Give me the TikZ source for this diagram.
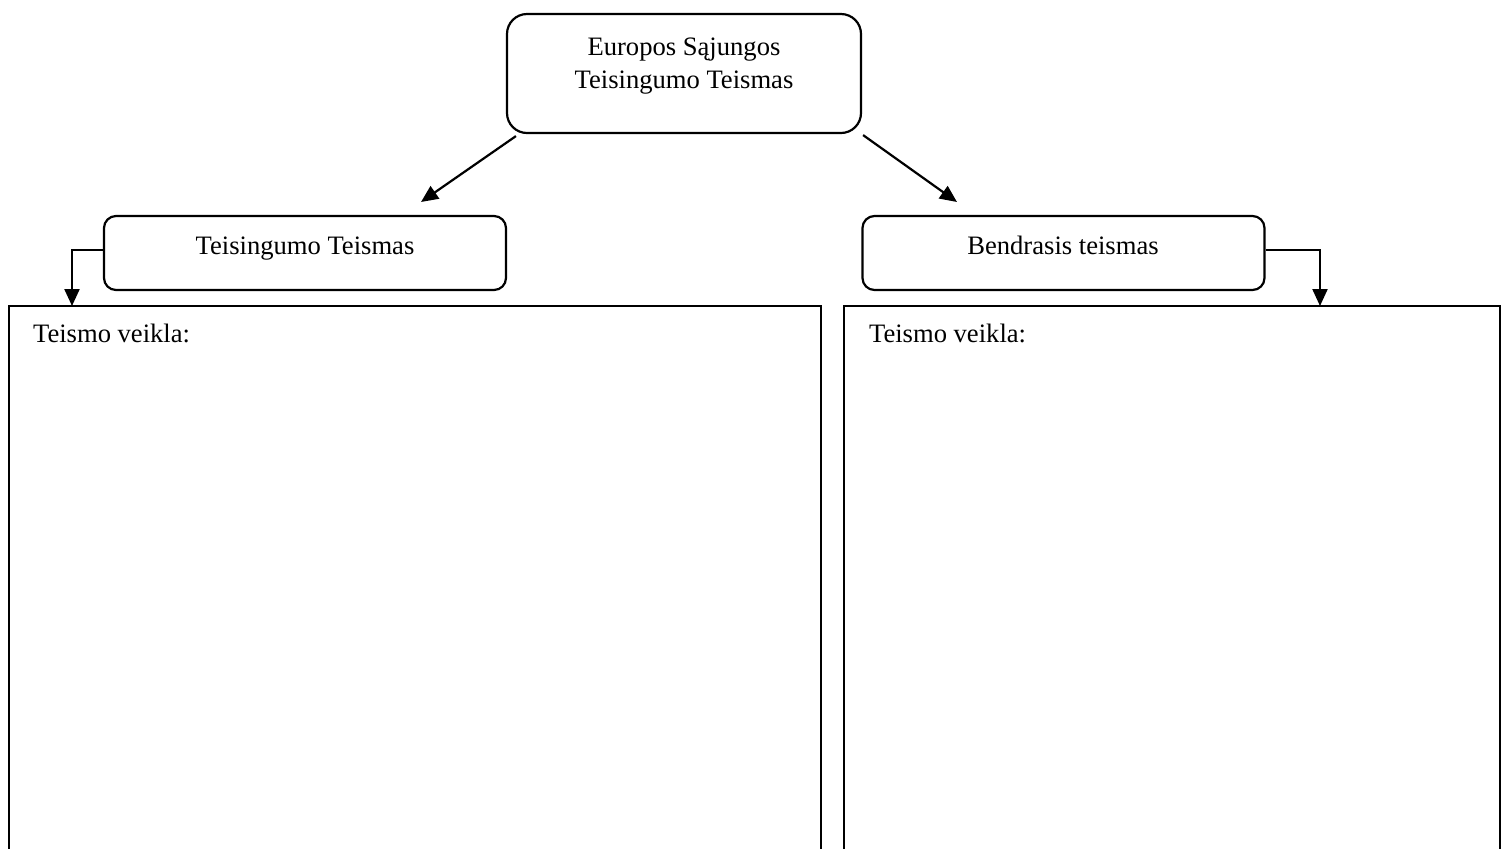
\documentclass[tikz,border=0pt]{standalone}
\usepackage{fontspec}
\setmainfont{Liberation Serif}
\usetikzlibrary{arrows.meta}

\begin{document}
\begin{tikzpicture}[x=0.5pt, y=-0.5pt, line width=1.1pt,
		font=\fontsize{13.3}{16.5}\selectfont,
		topbox/.style={draw, rounded corners=10pt, minimum width=177pt, minimum height=59.5pt},
		courtbox/.style={draw, rounded corners=6pt, minimum width=201pt, minimum height=37pt},
		workbox/.style={draw, minimum height=300pt},
		arr/.style={-{Triangle[length=8.5pt, width=7.5pt]}}]
			\clip (0,0) rectangle (1505,848); % page
			\node[topbox] (eu) at (684,73.5) {}; % top court
			\node[courtbox] (tt) at (305,253) {}; % left court
			\node[courtbox] (bt) at (1063.5,253) {}; % right court
			\node[workbox, minimum width=406pt] (ttveik) at (415,606) {}; % left work box
			\node[workbox, minimum width=328pt] (btveik) at (1172,606) {}; % right work box
			% labels
			\node[anchor=north, align=center, inner sep=0pt] (eutxt) at (684,37) {Europos Sąjungos\\Teisingumo Teismas};
			\node[anchor=base, inner sep=0pt] (tttxt) at (305,254) {Teisingumo Teismas};
			\node[anchor=base, inner sep=0pt] (bttxt) at (1063,254) {Bendrasis teismas};
			\node[anchor=base west, inner sep=0pt] (ttveiktxt) at (32,342) {Teismo veikla:};
			\node[anchor=base west, inner sep=0pt] (btveiktxt) at (868,342) {Teismo veikla:};
			% arrows
			\coordinate (ttin) at (421,202);
			\coordinate (btin) at (957,202);
			\coordinate (ttveikin) at (72,306);
			\coordinate (btveikin) at (1320,306);
			\draw[arr] ([xshift=5pt, yshift=-1pt]eu.south west) -- (ttin);
			\draw[arr] ([xshift=0.5pt, yshift=-0.5pt]eu.south east) -- (btin);
			\draw[arr] ([yshift=1.5pt]tt.west) -| (ttveikin);
			\draw[arr] ([yshift=1.5pt]bt.east) -| (btveikin);
			\end{tikzpicture}
\end{document}
